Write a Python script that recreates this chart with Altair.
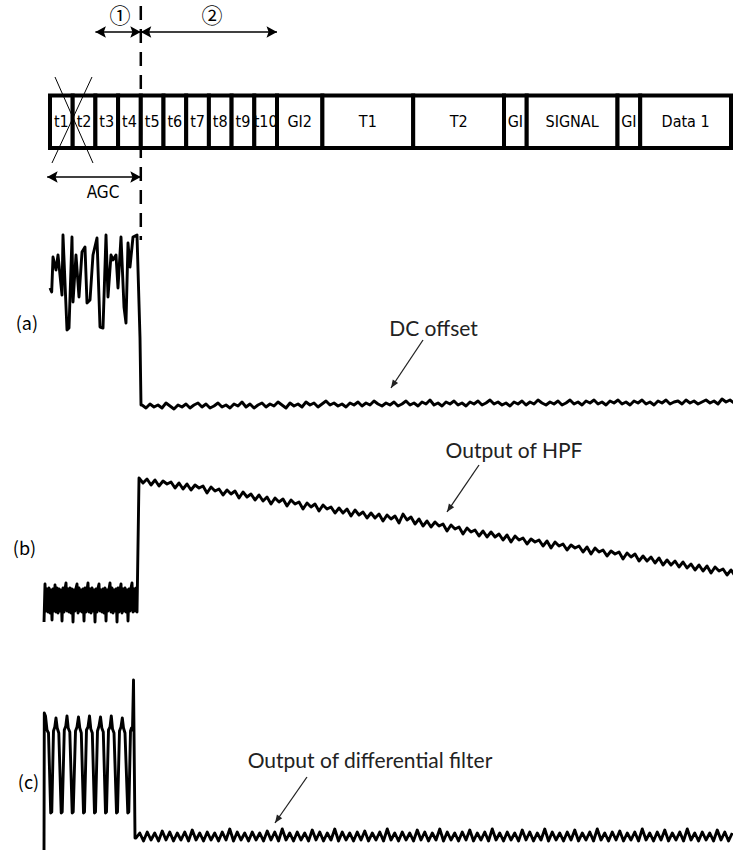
import altair as alt
import pandas as pd
import numpy as np

# ---------------- frame (preamble) : segment labels and durations in microseconds
seg_labels = ["t1", "t2", "t3", "t4", "t5", "t6", "t7", "t8", "t9", "t10",
              "GI2", "T1", "T2", "GI", "SIGNAL", "GI", "Data 1"]
seg_dur = [0.8, 0.8, 0.8, 0.8, 0.8, 0.8, 0.8, 0.8, 0.8, 0.8,
           1.6, 3.2, 3.2, 0.8, 3.2, 0.8, 3.2]

# ---------------- waveform (a): received signal (AGC section, then DC offset)
a_head_t = [0.000, 0.060, 0.106, 0.211, 0.282, 0.423, 0.458, 0.599, 0.670, 0.775,
            0.811, 0.916, 1.022, 1.128, 1.233, 1.304, 1.410, 1.515, 1.656, 1.762,
            1.868, 1.974, 2.044, 2.150, 2.220, 2.326, 2.396, 2.502, 2.608, 2.678,
            2.749, 2.819, 2.925, 3.066, 3.172, 3.207]
a_head_y = [288, 292, 257, 270, 255, 295, 235, 330, 328, 237,
            302, 255, 297, 252, 247, 303, 300, 255, 238, 327,
            328, 235, 297, 255, 260, 255, 288, 237, 307, 323,
            243, 267, 237, 235, 338, 405]
a_tail_start, a_tail_step = 3.242, 0.14097
a_tail_y = [405, 408, 404, 407, 405, 408, 403, 406, 409, 405,
            407, 404, 408, 405, 403, 407, 404, 408, 406, 403,
            407, 405, 408, 404, 406, 402, 407, 404, 408, 405,
            403, 407, 404, 406, 402, 405, 408, 403, 406, 404,
            407, 402, 405, 403, 407, 404, 401, 405, 403, 406,
            404, 407, 403, 405, 402, 406, 403, 405, 401, 404,
            406, 403, 405, 402, 406, 404, 401, 405, 403, 406,
            402, 404, 400, 405, 403, 406, 402, 404, 401, 405,
            403, 406, 402, 404, 401, 405, 403, 400, 404, 402,
            405, 403, 406, 402, 404, 401, 405, 402, 404, 400,
            403, 405, 402, 404, 401, 405, 403, 400, 404, 402,
            405, 401, 403, 400, 404, 402, 405, 401, 403, 400,
            404, 402, 405, 401, 403, 400, 404, 402, 405, 401,
            403, 400, 404, 402, 401, 404, 400, 403, 401, 404,
            402, 400, 403, 401, 404, 399, 402, 400, 403, 401]

# ---------------- waveform (b): output of HPF
b_head_start, b_head_step = -0.211, 0.035242
b_head_y = [622, 584, 611, 589, 612, 588, 613, 590, 620, 589, 611,
            585, 612, 588, 613, 589, 611, 590, 621, 588, 612, 589,
            583, 611, 589, 612, 588, 613, 589, 622, 590, 611, 588,
            584, 613, 588, 611, 590, 612, 589, 621, 588, 612, 590,
            583, 612, 589, 613, 588, 611, 590, 622, 589, 612, 588,
            584, 611, 590, 612, 589, 613, 588, 621, 590, 611, 589,
            583, 612, 588, 613, 590, 611, 589, 622, 588, 612, 590,
            584, 613, 589, 611, 588, 612, 590, 621, 589, 611, 588,
            583, 612, 589, 611, 588, 612]
b_tail_start, b_tail_step = 3.137, 0.14097
b_tail_y = [478, 483, 479, 485, 480, 486, 481, 484, 482, 488,
            483, 489, 484, 490, 485, 488, 486, 493, 487, 491,
            489, 495, 490, 494, 491, 498, 492, 497, 494, 500,
            495, 501, 497, 504, 498, 502, 499, 506, 500, 504,
            502, 509, 503, 507, 504, 511, 505, 509, 507, 513,
            508, 513, 509, 516, 510, 515, 512, 518, 513, 518,
            514, 521, 515, 519, 516, 523, 514, 520, 517, 524,
            519, 526, 521, 527, 522, 526, 524, 531, 525, 529,
            527, 534, 528, 532, 530, 536, 531, 537, 532, 537,
            534, 540, 535, 542, 536, 540, 538, 544, 539, 542,
            540, 546, 541, 548, 542, 546, 544, 550, 545, 548,
            546, 552, 547, 554, 548, 552, 550, 556, 551, 554,
            552, 559, 553, 557, 554, 561, 556, 561, 557, 563,
            558, 565, 560, 565, 561, 567, 562, 568, 564, 570,
            565, 571, 566, 573, 567, 571, 569, 575, 570, 576]

# ---------------- waveform (c): output of differential filter
c_head_t = [-0.211, -0.201, -0.159, -0.106, -0.053,
            0.025, 0.063, 0.123, 0.169, 0.211, 0.254, 0.310,
            0.395, 0.430, 0.504, 0.557, 0.599, 0.641, 0.698,
            0.782, 0.818, 0.899, 0.952, 1.004, 1.050, 1.103,
            1.181, 1.216, 1.286, 1.339, 1.392, 1.438, 1.491,
            1.568, 1.604, 1.674, 1.727, 1.780, 1.826, 1.878,
            1.956, 1.991, 2.062, 2.115, 2.160, 2.203, 2.256,
            2.344, 2.379, 2.449, 2.502, 2.548, 2.590, 2.643,
            2.742, 2.777, 2.837, 2.872, 2.907, 2.943, 2.996]
c_head_y = [850, 713, 716, 730, 733,
            813, 812, 731, 727, 718, 728, 733,
            813, 812, 730, 726, 716, 728, 732,
            813, 812, 731, 727, 717, 728, 733,
            813, 812, 730, 727, 716, 729, 733,
            813, 812, 731, 726, 717, 728, 732,
            813, 812, 730, 727, 716, 729, 733,
            813, 812, 731, 727, 718, 728, 733,
            813, 812, 731, 728, 730, 680, 838]
c_tail_start, c_tail_step = 3.031, 0.13216
c_tail_y = [838, 833, 841, 832, 840, 833, 841, 831, 840, 832,
            841, 833, 840, 832, 841, 830, 840, 833, 841, 832,
            840, 833, 841, 832, 840, 829, 841, 832, 840, 833,
            841, 832, 840, 833, 841, 831, 840, 832, 841, 829,
            840, 833, 841, 832, 840, 833, 841, 830, 840, 832,
            841, 833, 840, 829, 841, 832, 840, 833, 841, 832,
            840, 831, 841, 833, 840, 832, 841, 829, 840, 833,
            841, 832, 840, 833, 841, 830, 840, 832, 841, 833,
            840, 829, 841, 832, 840, 833, 841, 832, 840, 830,
            841, 833, 840, 832, 841, 829, 840, 833, 841, 832,
            840, 833, 841, 830, 840, 832, 841, 833, 840, 829,
            841, 832, 840, 833, 841, 832, 840, 830, 841, 833,
            840, 832, 841, 829, 840, 833, 841, 832, 840, 831,
            841, 833, 840, 832, 841, 829, 840, 833, 841, 832,
            840, 830, 841, 833, 840, 832, 841, 829, 840, 833,
            841, 832, 840, 833, 841, 830, 840, 832, 841, 833]

# ---------------- annotations
panel_labels = ["(a)", "(b)", "(c)"]
panel_label_t = [-0.42, -0.49, -0.38]
panel_label_y = [325, 550, 784]

note_text = ["DC offset", "Output of HPF", "Output of differential filter"]
note_t = [13.515, 16.352, 11.277]
note_y = [330, 452, 762]
note_arrow_t0 = [13.145, 15.119, 9.057]
note_arrow_y0 = [340, 465, 777]
note_arrow_t1 = [12.017, 13.991, 7.929]
note_arrow_y1 = [388, 512, 823]

span_labels = ["①", "②", "AGC"]
span_t0 = [1.6, 3.2, -0.1]
span_t1 = [3.2, 8.0, 3.2]
span_y = [32, 32, 177]
span_label_t = [2.467, 5.709, 1.868]
span_label_y = [17, 17, 193]

cross_t0 = [0.070, 0.176]
cross_y0 = [163, 77]
cross_t1 = [1.480, 1.515]
cross_y1 = [77, 163]

boundary_t = 3.2  # end of AGC section (dashed line)

# ---------------- build tables
PX_PER_US = 28.375
FRAME_TOP, FRAME_BOTTOM, LABEL_Y = 95.5, 148.0, 121.5

ends = np.cumsum(seg_dur)
starts = ends - np.array(seg_dur)
frame = pd.DataFrame({"t0": starts, "t1": ends, "tc": (starts + ends) / 2,
                      "y0": FRAME_TOP, "y1": FRAME_BOTTOM, "ly": LABEL_Y,
                      "label": seg_labels})

def series(name, t, y):
    return pd.DataFrame({"t": t, "y": y, "series": name, "idx": np.arange(len(y))})

def sampled(start, step, vals):
    return start + step * np.arange(len(vals))

wa = series("a", list(a_head_t) + list(sampled(a_tail_start, a_tail_step, a_tail_y)),
            a_head_y + a_tail_y)
wb = series("b", list(sampled(b_head_start, b_head_step, b_head_y)) +
            list(sampled(b_tail_start, b_tail_step, b_tail_y)), b_head_y + b_tail_y)
wc = series("c", list(c_head_t) + list(sampled(c_tail_start, c_tail_step, c_tail_y)),
            c_head_y + c_tail_y)
waves = pd.concat([wa, wb, wc], ignore_index=True)

def angle(t0, y0, t1, y1):
    return float(np.degrees(np.arctan2(y1 - y0, (t1 - t0) * PX_PER_US)) % 360)

notes = pd.DataFrame({"label": note_text, "t": note_t, "y": note_y,
                      "t0": note_arrow_t0, "y0": note_arrow_y0,
                      "t1": note_arrow_t1, "y1": note_arrow_y1})
notes["ang"] = [angle(*r) for r in zip(notes.t0, notes.y0, notes.t1, notes.y1)]

spans = pd.DataFrame({"label": span_labels, "t0": span_t0, "t1": span_t1,
                      "y": span_y, "lt": span_label_t, "ly": span_label_y})
span_heads = pd.DataFrame({
    "t": list(span_t0) + list(span_t1),
    "y": list(span_y) + list(span_y),
    "ang": [180.0] * len(span_t0) + [0.0] * len(span_t1)})

cross = pd.DataFrame({"t0": cross_t0, "y0": cross_y0, "t1": cross_t1, "y1": cross_y1})
dash = pd.DataFrame({"t": [boundary_t], "y0": [6], "y1": [240]})
plabels = pd.DataFrame({"label": panel_labels, "t": panel_label_t, "y": panel_label_y})

# ---------------- scales
xs = alt.Scale(domain=[-1.762, 24.070], nice=False, zero=False)
ys = alt.Scale(domain=[0, 852], reverse=True, nice=False, zero=False)

def X(f):
    return alt.X(f, type="quantitative", scale=xs, axis=None)

def Y(f):
    return alt.Y(f, type="quantitative", scale=ys, axis=None)

BOX_FONT = "Liberation Sans Narrow, DejaVu Sans Condensed, DejaVu Sans Mono"
NOTE_FONT = "Lato"
HEAD_BIG = "M0,0L-2,-1.1L-1.6,0L-2,1.1Z"
HEAD_SMALL = "M0,0L-2,-0.8L-2,0.8Z"

frame_rects = alt.Chart(frame).mark_rect(fill="white", stroke="black", strokeWidth=4).encode(
    x=X("t0"), x2="t1", y=Y("y0"), y2="y1")
frame_text = alt.Chart(frame).mark_text(font=BOX_FONT, fontSize=16, baseline="middle",
                                        align="center", color="black").encode(
    x=X("tc"), y=Y("ly"), text="label")
cross_lines = alt.Chart(cross).mark_rule(strokeWidth=1, color="black").encode(
    x=X("t0"), y=Y("y0"), x2="t1", y2="y1")
dash_line = alt.Chart(dash).mark_rule(strokeWidth=2.5, strokeDash=[14, 9], color="black").encode(
    x=X("t"), y=Y("y0"), y2="y1")
span_lines = alt.Chart(spans).mark_rule(strokeWidth=1.5, color="black").encode(
    x=X("t0"), x2="t1", y=Y("y"))
span_tips = alt.Chart(span_heads).mark_point(shape=HEAD_BIG, size=110, filled=True,
                                             color="black", opacity=1).encode(
    x=X("t"), y=Y("y"), angle=alt.Angle("ang", type="quantitative", scale=None))
circ_text = alt.Chart(spans.iloc[:2]).mark_text(font="Noto Sans CJK JP", fontSize=21,
                                                baseline="middle", color="black").encode(
    x=X("lt"), y=Y("ly"), text="label")
agc_text = alt.Chart(spans.iloc[2:]).mark_text(font=BOX_FONT, fontSize=17,
                                               baseline="middle", color="black").encode(
    x=X("lt"), y=Y("ly"), text="label")

wave_lines = alt.Chart(waves).mark_line(color="black", strokeWidth=2.9, strokeJoin="round",
                                        clip=True).encode(
    x=X("t"), y=Y("y"), detail="series", order="idx")

panel_text = alt.Chart(plabels).mark_text(font="Noto Sans CJK JP", fontSize=18, align="right",
                                          baseline="middle", color="black").encode(
    x=X("t"), y=Y("y"), text="label")

note_lines = alt.Chart(notes).mark_rule(strokeWidth=1.3, color="#222").encode(
    x=X("t0"), y=Y("y0"), x2="t1", y2="y1")
note_tips = alt.Chart(notes).mark_point(shape=HEAD_SMALL, size=64, filled=True,
                                        color="#222", opacity=1).encode(
    x=X("t1"), y=Y("y1"), angle=alt.Angle("ang", type="quantitative", scale=None))
note_text_l = alt.Chart(notes).mark_text(font=NOTE_FONT, fontSize=21, baseline="middle",
                                         align="center", color="#222").encode(
    x=X("t"), y=Y("y"), text="label")

chart = alt.layer(
    frame_rects, frame_text, cross_lines, dash_line, span_lines, span_tips, circ_text, agc_text,
    wave_lines, panel_text, note_lines, note_tips, note_text_l
).properties(
    width=733, height=852, padding=0, autosize=alt.AutoSizeParams(type="none"),
    background="white"
).configure_view(stroke=None)

chart.save("out.html", embed_options={"renderer": "svg", "actions": False})
